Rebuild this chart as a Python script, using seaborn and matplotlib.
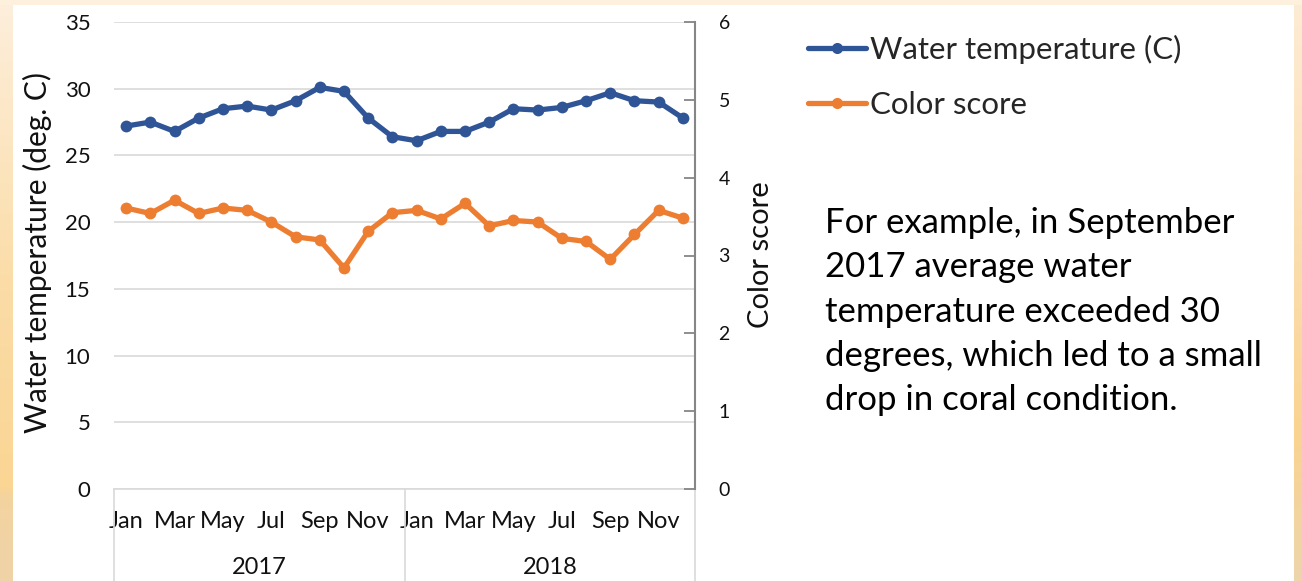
import numpy as np
import pandas as pd
import matplotlib
matplotlib.use("Agg")
import matplotlib.pyplot as plt
import matplotlib.transforms as mtransforms
from matplotlib.lines import Line2D
from matplotlib.colors import LinearSegmentedColormap
import seaborn as sns

# ---------------- data ----------------
months = ["Jan", "Feb", "Mar", "Apr", "May", "Jun",
          "Jul", "Aug", "Sep", "Oct", "Nov", "Dec"]
years = ["2017", "2018"]
water_temp = [27.2, 27.5, 26.8, 27.8, 28.5, 28.7, 28.4, 29.1, 30.1, 29.8, 27.8, 26.4,
              26.1, 26.8, 26.8, 27.5, 28.5, 28.4, 28.6, 29.1, 29.7, 29.1, 29.0, 27.8]
color_score = [3.61, 3.54, 3.71, 3.54, 3.61, 3.58, 3.43, 3.24, 3.20, 2.84, 3.31, 3.55,
               3.58, 3.47, 3.67, 3.38, 3.45, 3.43, 3.22, 3.18, 2.95, 3.27, 3.58, 3.48]
series_names = ["Water temperature (C)", "Color score"]
temp_ticks = [0, 5, 10, 15, 20, 25, 30, 35]
score_ticks = [0, 1, 2, 3, 4, 5, 6]
note = ("For example, in September\n2017 average water\ntemperature exceeded 30\n"
        "degrees, which led to a small\ndrop in coral condition.")

# ---------------- style ----------------
sns.set_theme(style="white")
plt.rcParams["font.family"] = ["Lato", "DejaVu Sans"]

BLUE = "#2f5597"
ORANGE = "#ed7d31"
GRID = "#d9d9d9"
SPINE = "#868686"
TXT = "#111111"

W, H = 1302, 581
fig = plt.figure(figsize=(W / 100, H / 100), dpi=100)
fig.patch.set_facecolor("white")

# background decoration (slide frame)
bg = fig.add_axes([0, 0, 1, 1], zorder=-10)
bg.axis("off")
left_cmap = LinearSegmentedColormap.from_list(
    "l", [(0, "#fdefdc"), (0.5, "#fbdca6"), (0.84, "#fad594"), (0.86, "#f3d3a0"), (1, "#efd4a8")])
right_cmap = LinearSegmentedColormap.from_list(
    "r", [(0, "#fdecd5"), (0.75, "#f9d391"), (1, "#edd5ab")])
grad = np.linspace(0, 1, 256).reshape(-1, 1)
bg.imshow(grad, cmap=left_cmap, extent=[0, 13, H, 0], aspect="auto")
bg.imshow(grad, cmap=right_cmap, extent=[1294, W, H, 0], aspect="auto")
bg.add_patch(plt.Rectangle((0, 0), W, 5, color="#fdf0dc", lw=0))
bg.set_xlim(0, W)
bg.set_ylim(H, 0)

# main axes
x0, x1, y0, y1 = 114, 695, 22, 489
ax = fig.add_axes([x0 / W, 1 - y1 / H, (x1 - x0) / W, (y1 - y0) / H])
ax.set_facecolor("none")

df = pd.DataFrame({"idx": np.arange(len(water_temp)),
                   "temp": water_temp, "score": color_score})

sns.lineplot(data=df, x="idx", y="temp", ax=ax, color=BLUE, lw=3.8,
             marker="o", markersize=8.5, markeredgewidth=0, zorder=3)
ax2 = ax.twinx()
sns.lineplot(data=df, x="idx", y="score", ax=ax2, color=ORANGE, lw=3.8,
             marker="o", markersize=8.5, markeredgewidth=0, zorder=3)

ax.set_xlim(-0.5, len(water_temp) - 0.5)
ax.set_ylim(temp_ticks[0], temp_ticks[-1])
ax.set_yticks(temp_ticks)
ax2.set_ylim(score_ticks[0], score_ticks[-1])
ax2.set_yticks(score_ticks)

all_months = months * len(years)
ax.set_xticks(df["idx"][::2])
ax.set_xticklabels(all_months[::2])

for a in (ax, ax2):
    a.set_xlabel("")
    a.set_ylabel("")
    for s in a.spines.values():
        s.set_visible(False)

ax.spines["bottom"].set_visible(True)
ax.spines["bottom"].set_color(GRID)
ax.spines["bottom"].set_linewidth(1.2)
ax2.spines["right"].set_visible(True)
ax2.spines["right"].set_color(SPINE)
ax2.spines["right"].set_linewidth(1.5)

ax.yaxis.grid(True, color=GRID, lw=1.2)
ax.xaxis.grid(False)
ax2.grid(False)

ax.tick_params(axis="x", length=0, pad=16, labelsize=17, labelcolor=TXT)
ax.tick_params(axis="y", length=0, pad=17, labelsize=16, labelcolor=TXT)
ax2.tick_params(axis="y", direction="in", length=8, width=1.3, color=SPINE,
                pad=17, labelsize=14, labelcolor=TXT)

# multi-level category axis: separators and year labels
trans = mtransforms.blended_transform_factory(ax.transData, ax.transAxes)
n_per_year = len(months)
sep_bottom = (y1 - H) / (y1 - y0)
for k in range(len(years) + 1):
    xs = k * n_per_year - 0.5
    ax.plot([xs, xs], [0, sep_bottom], transform=trans, color=GRID, lw=1.2,
            clip_on=False)
for k, yr in enumerate(years):
    xc = k * n_per_year + (n_per_year - 1) / 2
    ax.text(xc, (y1 - 568) / (y1 - y0), yr, transform=trans, ha="center",
            va="center", fontsize=17, color=TXT)

# axis titles
fig.text(37 / W, 1 - 252 / H, "Water temperature (deg. C)", rotation=90,
         ha="center", va="center", fontsize=21.5, color=TXT)
fig.text(761 / W, 1 - 255 / H, "Color score", rotation=90,
         ha="center", va="center", fontsize=21, color=TXT)

# legend
handles = [Line2D([], [], color=BLUE, lw=3.8, marker="o", ms=8, mew=0),
           Line2D([], [], color=ORANGE, lw=3.8, marker="o", ms=8, mew=0)]
fig.legend(handles, series_names, loc="upper left",
           bbox_to_anchor=(808 / W, 1 - 35 / H), frameon=False, fontsize=22.5,
           handlelength=1.86, handletextpad=0.13, labelspacing=0.86,
           borderpad=0, borderaxespad=0)

# annotation (baseline of the last line)
fig.text(825 / W, 1 - 410 / H, note, ha="left", va="baseline", fontsize=25,
         linespacing=1.47, color="#000000")

fig.savefig("out.png", dpi=100)
